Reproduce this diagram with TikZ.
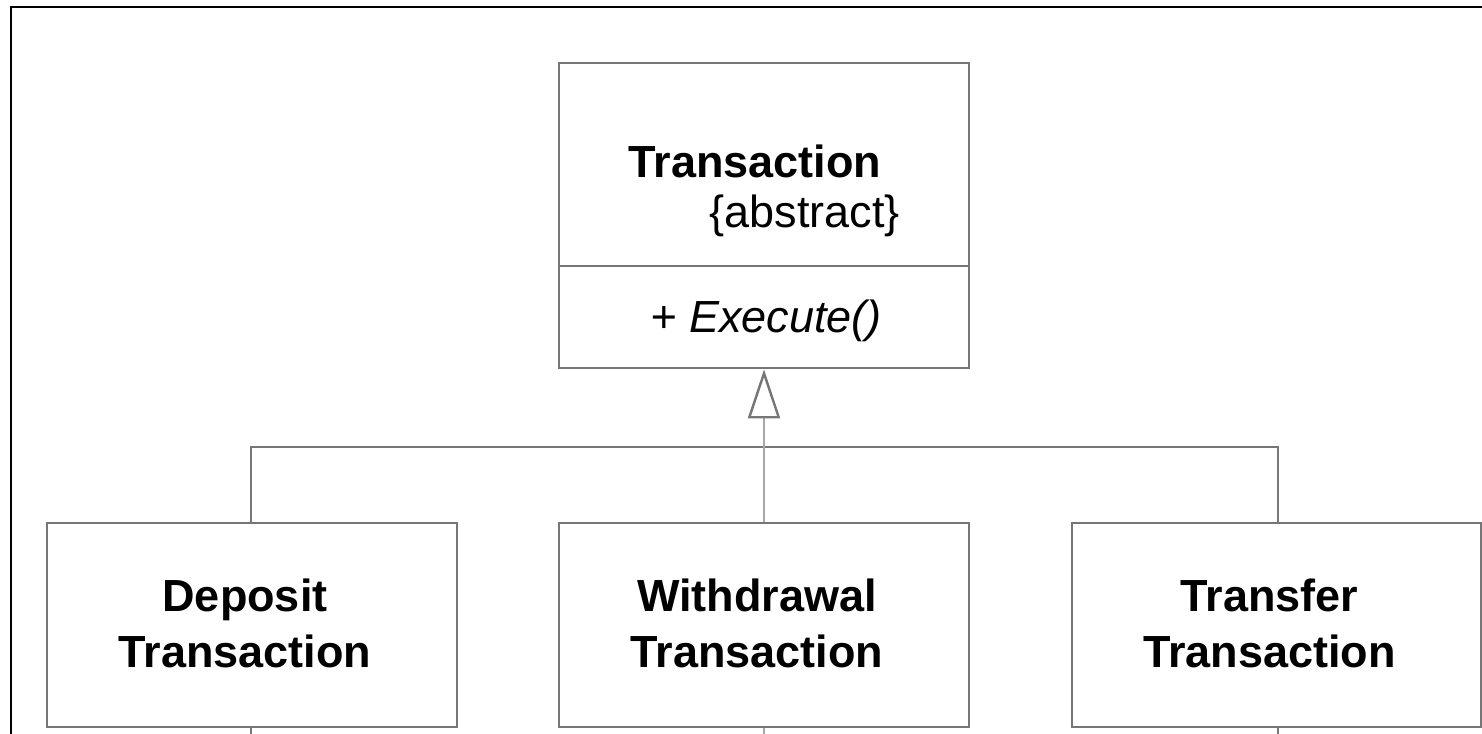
\documentclass[tikz,border=0pt]{standalone}
\usepackage{fontspec}
\setmainfont{Liberation Sans}
\usetikzlibrary{arrows.meta}
\definecolor{boxgray}{HTML}{767676}
\definecolor{stemgray}{HTML}{A8A8A8}
\begin{document}
\begin{tikzpicture}[x=1pt,y=-1pt,
  boxline/.style={draw=boxgray, line width=2.8pt},
  classbox/.style={boxline, minimum width=410pt, minimum height=204pt, inner sep=0pt},
  classname/.style={inner sep=0pt, align=center, xshift=-7pt, yshift=2pt,
    font=\fontsize{45}{56}\selectfont\bfseries},
  bigtext/.style={inner sep=0pt, font=\fontsize{45}{52}\selectfont},
  stemline/.style={draw=stemgray, line width=2.8pt},
  inherit/.style={-{Triangle[open, fill=white, color=boxgray, width=32pt, length=49pt, line width=2.4pt]}}]
  \path[use as bounding box, clip] (0,0) rectangle (1482,733);

  % outer frame (only its top and left edges fall inside the page)
  \draw[black, line width=2.4pt] (11,760) -- (11,7) -- (1500,7);

  % abstract base class
  \node[boxline, minimum width=410pt, minimum height=305pt, inner sep=0pt]
    (trans) at (764,215.5) {};
  \draw[boxline] (trans.west |- 0,266) -- (trans.east |- 0,266);
  \node[bigtext, anchor=base, font=\fontsize{45}{52}\selectfont\bfseries]
    (tname) at (755,177) {Transaction};
  \node[bigtext, anchor=base east] (tabs) at (900,227) {\{abstract\}};
  \node[bigtext, anchor=base, font=\fontsize{45}{52}\selectfont\itshape]
    (top) at (766,332) {+ Execute()};

  % derived classes
  \node[classbox] (deposit) at (252,625) {};
  \node[classname] (depositname) at (deposit.center) {Deposit\\Transaction};
  \node[classbox] (withdrawal) at (764,625) {};
  \node[classname] (withdrawalname) at (withdrawal.center) {Withdrawal\\Transaction};
  \node[classbox, minimum width=409pt] (transfer) at (1276.5,625) {};
  \node[classname] (transfername) at (transfer.center) {Transfer\\Transaction};

  % generalization tree
  \coordinate (bus) at (765,447);
  \draw[boxline] (deposit.north -| 251,0) -- (251,447) -- (1278,447)
    -- (transfer.north -| 1278,0);
  \draw[stemline, inherit] (withdrawal.north) -- (trans.south);

  % connectors continuing below the derived classes
  \draw[boxline] (deposit.south -| 251,0) -- ++(0,12);
  \draw[stemline] (withdrawal.south) -- ++(0,12);
  \draw[boxline] (transfer.south -| 1278,0) -- ++(0,12);
\end{tikzpicture}
\end{document}
